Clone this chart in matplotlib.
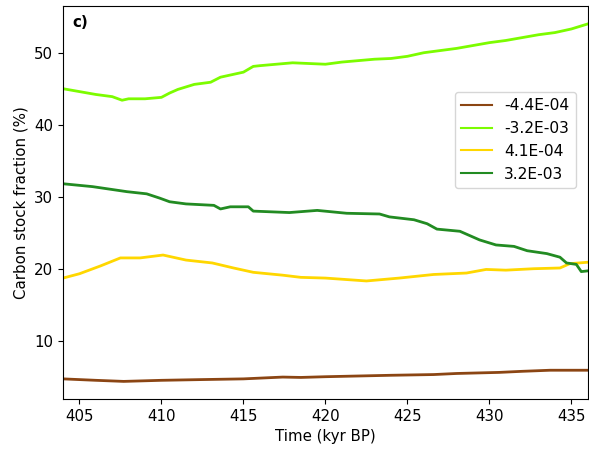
import matplotlib
matplotlib.use('Agg')
from matplotlib import pyplot as plt

# time (kyr BP) and carbon stock fraction (%)
t_brown = [404, 405, 406, 407.7, 410, 412.4, 415, 417.4, 418.5, 420, 422, 424, 426.6, 428, 430.6, 432, 433.7, 435, 436]
brown = [4.7, 4.6, 4.5, 4.35, 4.5, 4.6, 4.7, 4.95, 4.9, 5.0, 5.1, 5.2, 5.3, 5.45, 5.6, 5.75, 5.9, 5.9, 5.9]

t_lgreen = [404, 405, 406, 407, 407.6, 408, 409, 410, 410.5, 411, 412, 413, 413.6, 414, 415, 415.6, 416, 417,
            418, 419, 420, 421, 422, 423, 424, 425, 426, 427, 428, 429, 430, 431, 432, 433, 434, 435, 436]
lgreen = [45.0, 44.6, 44.2, 43.9, 43.4, 43.6, 43.6, 43.8, 44.4, 44.9, 45.6, 45.9, 46.6, 46.8, 47.3, 48.1, 48.2, 48.4,
          48.6, 48.5, 48.4, 48.7, 48.9, 49.1, 49.2, 49.5, 50.0, 50.3, 50.6, 51.0, 51.4, 51.7, 52.1, 52.5, 52.8, 53.3, 54.0]

t_yellow = [404, 405, 406.3, 407.5, 408.7, 410.1, 411.5, 413.1, 414.4, 415.6, 417.4, 418.5, 420, 422.5, 424.5,
            426.6, 428.6, 429.8, 431, 432.7, 434.3, 434.9, 436]
yellow = [18.7, 19.3, 20.4, 21.5, 21.5, 21.9, 21.2, 20.8, 20.1, 19.5, 19.1, 18.8, 18.7, 18.3, 18.7,
          19.2, 19.4, 19.9, 19.8, 20.0, 20.1, 20.7, 20.9]

t_dgreen = [404, 405.8, 407.9, 409.1, 409.9, 410.5, 411.5, 413.2, 413.6, 414.2, 415.3, 415.6, 417.8, 419.5, 421.3,
            423.3, 423.9, 425.4, 426.2, 426.8, 428.2, 429.4, 430.4, 431.5, 432.3, 433.5, 434.3, 434.7, 435.3, 435.6, 436]
dgreen = [31.8, 31.4, 30.7, 30.4, 29.8, 29.3, 29.0, 28.8, 28.3, 28.6, 28.6, 28.0, 27.8, 28.1, 27.7,
          27.6, 27.2, 26.8, 26.25, 25.5, 25.2, 24.0, 23.3, 23.1, 22.5, 22.1, 21.6, 20.8, 20.6, 19.6, 19.7]

labels = ['-4.4E-04', '-3.2E-03', '4.1E-04', '3.2E-03']
colors = ['#8B4513', '#7CFC00', '#FFD700', '#228B22']

plt.rcParams['font.size'] = 10.8

fig = plt.figure(figsize=(5.89, 4.55), dpi=100)
ax = fig.add_axes([0.107, 0.123, 0.891, 0.864])

series = [(t_brown, brown), (t_lgreen, lgreen), (t_yellow, yellow), (t_dgreen, dgreen)]
for (t, y), c, lab in zip(series, colors, labels):
    ax.plot(t, y, color=c, lw=2, label=lab)

ax.set_xlim(404, 436)
ax.set_ylim(1.9, 56.5)
ax.set_xticks([405, 410, 415, 420, 425, 430, 435])
ax.set_yticks([10, 20, 30, 40, 50])
ax.set_xlabel('Time (kyr BP)')
ax.set_ylabel('Carbon stock fraction (%)')
ax.text(0.018, 0.978, 'c)', transform=ax.transAxes, fontweight='bold', va='top')
leg = ax.legend(loc='center right', bbox_to_anchor=(0.992, 0.659), fontsize=11.2)
for ln in leg.get_lines():
    ln.set_linewidth(1.5)

fig.savefig('out.png', dpi=100)
